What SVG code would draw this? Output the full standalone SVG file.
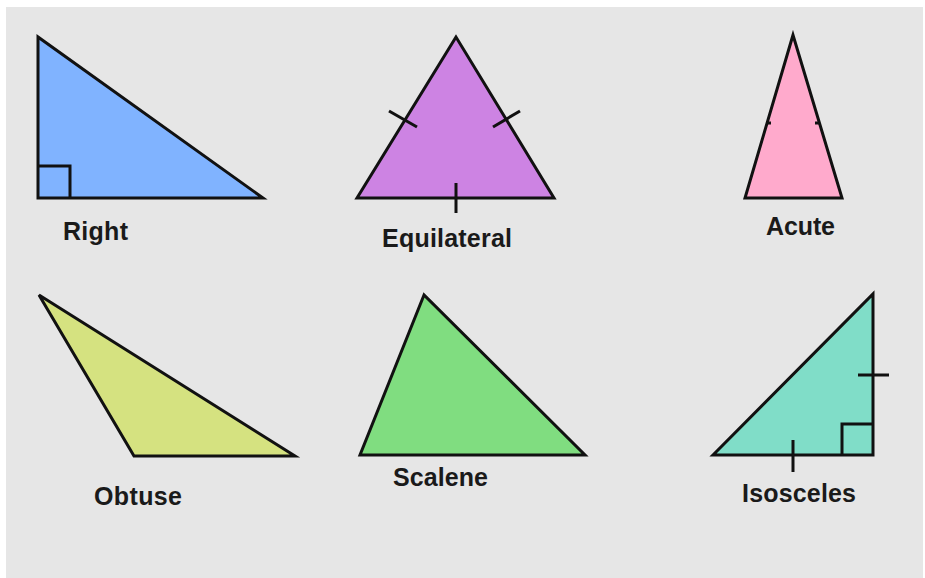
<svg xmlns="http://www.w3.org/2000/svg" width="925" height="578" viewBox="0 0 925 578">
<style>
.tri{stroke:#111;stroke-width:3;stroke-linejoin:miter}
.mark{fill:none;stroke:#111;stroke-width:3}
.lbl{font-family:"Liberation Sans",Arial,sans-serif;font-weight:bold;font-size:25px;fill:#1a1a1a}
</style>
<rect width="925" height="578" fill="#ffffff"/>
<rect x="6" y="7" width="917" height="571" fill="#e6e6e6"/>
<g id="right">
<polygon class="tri" points="38,37 38,198 263,198" fill="#80b3ff"/>
<polyline class="mark" points="38,166 70,166 70,198"/>
<text class="lbl" x="63" y="240" textLength="65">Right</text>
</g>
<g id="equilateral">
<polygon class="tri" points="456,37 357,198 554,198" fill="#cd83e3"/>
<line class="mark" x1="389" y1="111" x2="417" y2="127"/>
<line class="mark" x1="493" y1="127" x2="520" y2="111"/>
<line class="mark" x1="456" y1="183" x2="456" y2="213"/>
<text class="lbl" x="382" y="247" textLength="130">Equilateral</text>
</g>
<g id="acute">
<polygon class="tri" points="793,35 745,198 842,198" fill="#ffaacc"/>
<line class="mark" x1="766" y1="123" x2="771" y2="123" stroke-width="1.5" stroke="#666"/>
<line class="mark" x1="815" y1="123" x2="820" y2="123" stroke-width="1.5" stroke="#666"/>
<text class="lbl" x="766" y="235" textLength="69">Acute</text>
</g>
<g id="obtuse">
<polygon class="tri" points="39,295 134,456 295,456" fill="#d5e280"/>
<text class="lbl" x="94" y="505" textLength="88">Obtuse</text>
</g>
<g id="scalene">
<polygon class="tri" points="424,295 360,455 585,455" fill="#80dd80"/>
<text class="lbl" x="393" y="486" textLength="95">Scalene</text>
</g>
<g id="isosceles">
<polygon class="tri" points="713,455 873,294 873,455" fill="#80ddc8"/>
<polyline class="mark" points="842,455 842,424 873,424"/>
<line class="mark" x1="858" y1="375" x2="889" y2="375"/>
<line class="mark" x1="793" y1="440" x2="793" y2="472"/>
<text class="lbl" x="742" y="502" textLength="114">Isosceles</text>
</g>
<g id="connectors"/>
</svg>
